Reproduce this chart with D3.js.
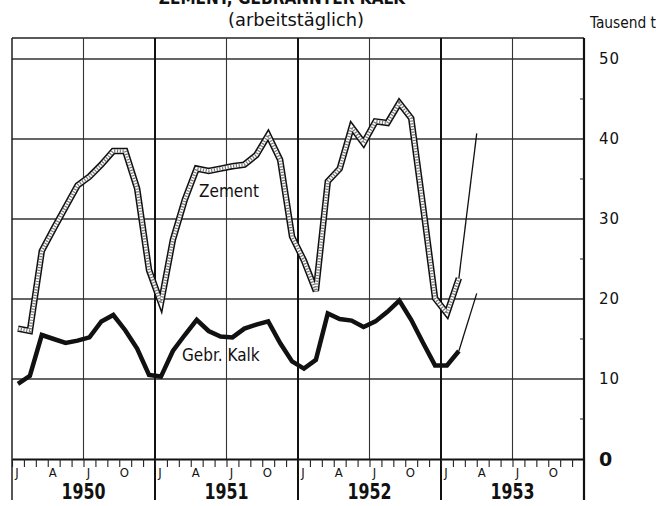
<!DOCTYPE html>
<html>
<head>
<meta charset="utf-8">
<script src="https://cdn.jsdelivr.net/npm/d3@7"></script>
<style>
body { margin: 0; background: #fff; }
text { fill: #111; }
</style>
</head>
<body>
<script>
// Jahre und Monatsbuchstaben der x-Achse
var years = ["1950", "1951", "1952", "1953"];
var monthLetters = ["J", "", "", "A", "", "", "J", "", "", "O", "", ""];
var yTicks = [0, 10, 20, 30, 40, 50];
var yMinor = [5, 15, 25, 35, 45];

// Zement, Tausend t arbeitstäglich, Jan 1950 .. Feb 1953
var zement = [16.3, 16.0, 26.0, 28.8, 31.5, 34.2, 35.3, 36.8, 38.5, 38.5, 33.8, 23.6,
              19.5, 27.4, 32.4, 36.3, 36.0, 36.3, 36.6, 36.8, 38.0, 40.5, 37.4, 27.8,
              24.8, 21.0, 34.7, 36.3, 41.5, 39.5, 42.2, 42.0, 44.5, 42.6, 31.5, 20.1,
              18.2, 22.6];
// Gebrannter Kalk
var kalk = [9.4, 10.4, 15.5, 15.0, 14.5, 14.8, 15.2, 17.2, 18.0, 16.1, 13.8, 10.5,
            10.3, 13.5, 15.5, 17.4, 16.0, 15.3, 15.2, 16.3, 16.8, 17.2, 14.5, 12.2,
            11.3, 12.4, 18.2, 17.5, 17.3, 16.5, 17.2, 18.4, 19.8, 17.4, 14.5, 11.7,
            11.7, 13.5];
// dünne Fortsetzung 1953 (Monatsindex, Wert)
var zementTrend = [[37, 22.6], [38.5, 40.7]];
var kalkTrend = [[37, 13.5], [38.5, 20.7]];

var W = 659, H = 506;
var left = 12, right = 584, frameTop = 38, frameBottom = 500;

var x = d3.scaleLinear().domain([0, 48]).range([left, right]);
var y = d3.scaleLinear().domain([0, 50]).range([459, 59]);

var svg = d3.select("body").append("svg")
    .attr("width", W)
    .attr("height", H);

// Titel (im Original oben angeschnitten)
svg.append("text")
    .attr("x", 282).attr("y", 4)
    .attr("text-anchor", "middle")
    .style("font-family", "DejaVu Sans Condensed")
    .style("font-weight", "bold")
    .style("font-size", "17px")
    .text("ZEMENT, GEBRANNTER KALK");
svg.append("text")
    .attr("x", 296).attr("y", 26)
    .attr("text-anchor", "middle")
    .attr("textLength", 136)
    .attr("lengthAdjust", "spacingAndGlyphs")
    .style("font-family", "DejaVu Sans Condensed")
    .style("font-size", "18px")
    .text("(arbeitstäglich)");
svg.append("text")
    .attr("x", 656).attr("y", 28)
    .attr("text-anchor", "end")
    .attr("textLength", 66)
    .attr("lengthAdjust", "spacingAndGlyphs")
    .style("font-family", "DejaVu Sans Condensed")
    .style("font-size", "16px")
    .text("Tausend t");

// horizontale Gitterlinien
svg.append("g").selectAll("line")
    .data(yTicks.filter(function(d) { return d > 0; }))
    .join("line")
    .attr("x1", left).attr("x2", right)
    .attr("y1", function(d) { return y(d); })
    .attr("y2", function(d) { return y(d); })
    .attr("stroke", "#333").attr("stroke-width", 1.3);

// Rahmen oben
svg.append("line")
    .attr("x1", left).attr("x2", right)
    .attr("y1", frameTop).attr("y2", frameTop)
    .attr("stroke", "#222").attr("stroke-width", 1.3);

// Halbjahreslinien (Juli)
svg.append("g").selectAll("line")
    .data(years.map(function(d, i) { return i * 12 + 6; }))
    .join("line")
    .attr("x1", function(d) { return x(d); })
    .attr("x2", function(d) { return x(d); })
    .attr("y1", frameTop).attr("y2", y(0))
    .attr("stroke", "#333").attr("stroke-width", 1.1);

// Jahreslinien, bis unter die Jahreszahlen
svg.append("g").selectAll("line")
    .data(d3.range(0, 49, 12))
    .join("line")
    .attr("x1", function(d) { return x(d); })
    .attr("x2", function(d) { return x(d); })
    .attr("y1", frameTop).attr("y2", frameBottom)
    .attr("stroke", "#111")
    .attr("stroke-width", function(d) { return d === 0 ? 1.4 : 2; });

// Monatsachse unten
var xAxis = d3.axisBottom(x)
    .tickValues(d3.range(0, 49))
    .tickSize(8)
    .tickSizeOuter(0)
    .tickFormat("");
var gx = svg.append("g")
    .attr("transform", "translate(0," + y(0) + ")")
    .call(xAxis);
gx.select(".domain").attr("stroke", "#111").attr("stroke-width", 2.2);
gx.selectAll(".tick line").attr("stroke", "#222").attr("stroke-width", 1.1);

// Monatsbuchstaben
var letters = [];
years.forEach(function(yr, i) {
    monthLetters.forEach(function(m, j) {
        if (m) letters.push({ m: m, i: i * 12 + j });
    });
});
svg.append("g").selectAll("text")
    .data(letters)
    .join("text")
    .attr("x", function(d) { return x(d.i) + 5; })
    .attr("y", 477)
    .attr("text-anchor", "middle")
    .style("font-family", "DejaVu Sans Condensed")
    .style("font-size", "13px")
    .text(function(d) { return d.m; });

// Jahreszahlen
svg.append("g").selectAll("text")
    .data(years)
    .join("text")
    .attr("x", function(d, i) { return x(i * 12 + 6) - 22; })
    .attr("y", 499)
    .attr("textLength", 44)
    .attr("lengthAdjust", "spacingAndGlyphs")
    .style("font-family", "DejaVu Sans Condensed")
    .style("font-weight", "bold")
    .style("font-size", "22px")
    .text(function(d) { return d; });

// rechte Achse
var yAxis = d3.axisRight(y)
    .tickValues(yTicks)
    .tickSize(0)
    .tickPadding(15)
    .tickFormat(d3.format("d"));
var gy = svg.append("g")
    .attr("transform", "translate(" + right + ",0)")
    .call(yAxis);
gy.select(".domain").remove();
gy.selectAll(".tick text")
    .style("font-family", "DejaVu Sans")
    .style("font-size", function(d) { return d === 0 ? "19px" : "15px"; })
    .style("font-weight", function(d) { return d === 0 ? "bold" : "normal"; })
    .style("letter-spacing", "1px")
    .attr("fill", "#111");
svg.append("line")
    .attr("x1", right).attr("x2", right)
    .attr("y1", frameTop).attr("y2", frameBottom)
    .attr("stroke", "#111").attr("stroke-width", 2.2);
svg.append("g").selectAll("line")
    .data(yMinor)
    .join("line")
    .attr("x1", right - 4).attr("x2", right)
    .attr("y1", function(d) { return y(d); })
    .attr("y2", function(d) { return y(d); })
    .attr("stroke", "#222").attr("stroke-width", 1);

// Linien
var line = d3.line()
    .x(function(d, i) { return x(i + 0.5); })
    .y(function(d) { return y(d); });
var trendLine = d3.line()
    .x(function(d) { return x(d[0] + 0.5); })
    .y(function(d) { return y(d[1]); });

// Gebr. Kalk: dicke schwarze Linie
svg.append("path")
    .datum(kalk)
    .attr("d", line)
    .attr("fill", "none")
    .attr("stroke", "#111")
    .attr("stroke-width", 4.5)
    .attr("stroke-linejoin", "miter");
svg.append("path")
    .datum(kalkTrend)
    .attr("d", trendLine)
    .attr("fill", "none")
    .attr("stroke", "#111")
    .attr("stroke-width", 1.3);

// Zement: Doppellinie mit gepunkteter Füllung
svg.append("path")
    .datum(zement)
    .attr("d", line)
    .attr("fill", "none")
    .attr("stroke", "#111")
    .attr("stroke-width", 6.5)
    .attr("stroke-linejoin", "miter");
svg.append("path")
    .datum(zement)
    .attr("d", line)
    .attr("fill", "none")
    .attr("stroke", "#fff")
    .attr("stroke-width", 3.4)
    .attr("stroke-linejoin", "miter");
svg.append("path")
    .datum(zement)
    .attr("d", line)
    .attr("fill", "none")
    .attr("stroke", "#777")
    .attr("stroke-width", 3.4)
    .attr("stroke-dasharray", "1.2,1.6")
    .attr("stroke-linejoin", "miter");
svg.append("path")
    .datum(zementTrend)
    .attr("d", trendLine)
    .attr("fill", "none")
    .attr("stroke", "#111")
    .attr("stroke-width", 1.3);

// Beschriftungen der Kurven
svg.append("text")
    .attr("x", 199).attr("y", 197)
    .style("font-family", "DejaVu Sans Condensed")
    .style("font-size", "17px")
    .text("Zement");
svg.append("text")
    .attr("x", 182).attr("y", 361)
    .style("font-family", "DejaVu Sans Condensed")
    .style("font-size", "17px")
    .text("Gebr. Kalk");
</script>
</body>
</html>
